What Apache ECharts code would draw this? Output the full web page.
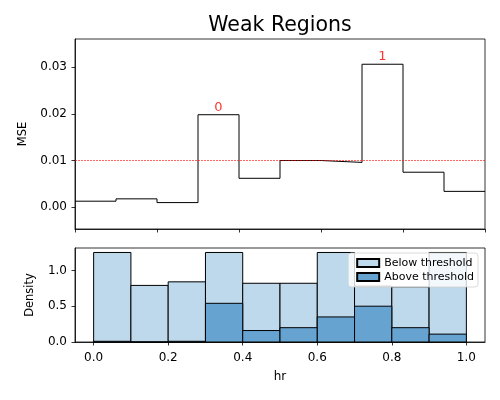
<!DOCTYPE html>
<html>
<head>
<meta charset="utf-8">
<script src="https://cdn.jsdelivr.net/npm/echarts@6/dist/echarts.min.js"></script>
<style>html,body{margin:0;padding:0;background:#fff}#chart{width:500px;height:400px}</style>
</head>
<body>
<div id="chart"></div>
<script>
// ---- data ----
const titleText = 'Weak Regions';
const mseBinEdges = [0, 0.1, 0.2, 0.3, 0.4, 0.5, 0.6, 0.7, 0.8, 0.9, 1.0];
const mseValues = [0.0013, 0.0018, 0.0010, 0.0198, 0.0062, 0.0100, 0.0096, 0.0306, 0.0075, 0.0034];
const mseThreshold = 0.0098;
const weakRegionBins = [3, 7];
const weakRegionLabels = ['0', '1'];
const histEdges = [0, 0.1, 0.2, 0.3, 0.4, 0.5, 0.6, 0.7, 0.8, 0.9, 1.0];
const belowDensity = [1.25, 0.79, 0.84, 1.25, 0.82, 0.82, 1.25, 0.78, 0.77, 1.25];
const aboveDensity = [0.01, 0.0, 0.01, 0.54, 0.16, 0.20, 0.35, 0.50, 0.20, 0.11];
const xTicks = [0, 0.2, 0.4, 0.6, 0.8, 1.0];
const mseTicks = [0, 0.01, 0.02, 0.03];
const densityTicks = [0, 0.5, 1.0];
const seriesNames = ['Below threshold', 'Above threshold'];

// ---- build ----
const FONT = 'DejaVu Sans';
const stepData = mseValues.map((v, i) => [mseBinEdges[i], v]);
stepData.push([mseBinEdges[mseBinEdges.length - 1], mseValues[mseValues.length - 1]]);
const labelData = weakRegionBins.map((b, k) => ({
  value: [(mseBinEdges[b] + mseBinEdges[b + 1]) / 2, mseValues[b]],
  label: { formatter: weakRegionLabels[k] }
}));
const histData = arr => arr.map((h, i) => [histEdges[i], histEdges[i + 1], h]);
function renderBar(params, api) {
  const p0 = api.coord([api.value(0), 0]);
  const p1 = api.coord([api.value(1), api.value(2)]);
  return {
    type: 'rect',
    shape: { x: p0[0], y: p1[1], width: p1[0] - p0[0], height: p0[1] - p1[1] },
    style: api.style()
  };
}
const lightBlue = '#bfd9ec';
const darkBlue = '#66a3d0';
const tickStyle = { show: true, inside: false, length: 3.5, lineStyle: { color: '#000', width: 0.8 } };
const lineStyle = { show: true, onZero: false, lineStyle: { color: '#000', width: 0.8 } };
const lbl = { color: '#000', fontFamily: FONT, fontSize: 12 };

const chart = echarts.init(document.getElementById('chart'), null, { renderer: 'canvas' });
chart.setOption({
  animation: false,
  backgroundColor: '#fff',
  graphic: [{
    type: 'text', x: 280, y: 26,
    style: { text: titleText, fill: '#000', font: '20.5px "DejaVu Sans"', textAlign: 'center', textVerticalAlign: 'middle' }
  }],
  grid: [
    { left: 75, right: 15, top: 39, height: 190, show: true, borderColor: '#000', borderWidth: 0.8, backgroundColor: 'transparent' },
    { left: 75, right: 15, top: 248, height: 94, show: true, borderColor: '#000', borderWidth: 0.8, backgroundColor: 'transparent' }
  ],
  xAxis: [
    { type: 'value', gridIndex: 0, min: 0, max: 1, axisLine: lineStyle,
      axisTick: Object.assign({ customValues: xTicks }, tickStyle),
      axisLabel: { show: false }, splitLine: { show: false } },
    { type: 'value', gridIndex: 1, min: -0.05, max: 1.05, axisLine: lineStyle,
      axisTick: Object.assign({ customValues: xTicks }, tickStyle),
      axisLabel: Object.assign({ customValues: xTicks, margin: 10, formatter: v => v.toFixed(1) }, lbl),
      splitLine: { show: false },
      name: 'hr', nameLocation: 'middle', nameGap: 29,
      nameTextStyle: { color: '#000', fontFamily: FONT, fontSize: 12 } }
  ],
  yAxis: [
    { type: 'value', gridIndex: 0, min: -0.00465, max: 0.036, axisLine: lineStyle,
      axisTick: Object.assign({ customValues: mseTicks }, tickStyle),
      axisLabel: Object.assign({ customValues: mseTicks, margin: 8, formatter: v => v.toFixed(2) }, lbl),
      splitLine: { show: false },
      name: 'MSE', nameLocation: 'middle', nameGap: 46,
      nameTextStyle: { color: '#000', fontFamily: FONT, fontSize: 11.5 } },
    { type: 'value', gridIndex: 1, min: 0, max: 1.3125, axisLine: lineStyle,
      axisTick: Object.assign({ customValues: densityTicks }, tickStyle),
      axisLabel: Object.assign({ customValues: densityTicks, margin: 8, formatter: v => v.toFixed(1) }, lbl),
      splitLine: { show: false },
      name: 'Density', nameLocation: 'middle', nameGap: 39,
      nameTextStyle: { color: '#000', fontFamily: FONT, fontSize: 11.5 } }
  ],
  legend: {
    data: seriesNames,
    orient: 'vertical', right: 22, top: 253,
    itemWidth: 22, itemHeight: 8, itemGap: 0,
    padding: [3, 4, 3, 8],
    backgroundColor: 'rgba(255,255,255,0.8)',
    borderColor: '#d0d0d0', borderWidth: 0.8, borderRadius: 3,
    icon: 'rect',
    textStyle: { color: '#000', fontFamily: FONT, fontSize: 11, lineHeight: 14 }
  },
  series: [
    { type: 'line', xAxisIndex: 0, yAxisIndex: 0, step: 'end', data: stepData,
      symbol: 'none', lineStyle: { color: '#000', width: 1 }, itemStyle: { color: '#000' },
      markLine: { silent: true, symbol: 'none', label: { show: false },
        lineStyle: { color: '#ff0000', width: 0.6, type: [2, 1] },
        data: [{ yAxis: mseThreshold }] } },
    { type: 'scatter', xAxisIndex: 0, yAxisIndex: 0, data: labelData, symbolSize: 0,
      label: { show: true, position: 'top', distance: 1, color: '#ff0000', fontFamily: FONT, fontSize: 13 } },
    { name: seriesNames[0], type: 'custom', xAxisIndex: 1, yAxisIndex: 1, renderItem: renderBar,
      encode: { x: [0, 1], y: 2 }, data: histData(belowDensity),
      itemStyle: { color: lightBlue, borderColor: '#000', borderWidth: 1 } },
    { name: seriesNames[1], type: 'custom', xAxisIndex: 1, yAxisIndex: 1, renderItem: renderBar,
      encode: { x: [0, 1], y: 2 }, data: histData(aboveDensity),
      itemStyle: { color: darkBlue, borderColor: '#000', borderWidth: 1 } }
  ]
});
</script>
</body>
</html>
